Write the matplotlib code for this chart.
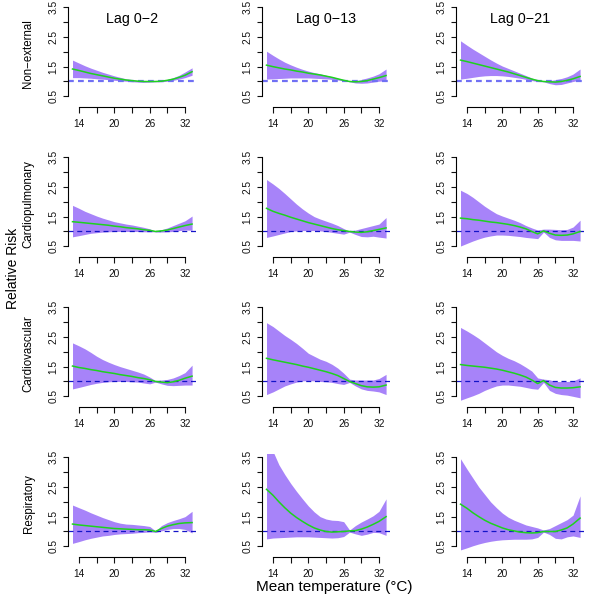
import matplotlib
matplotlib.use("Agg")
import matplotlib.pyplot as plt

# temperature grid the curves were read at (deg C)
temps = [12.9, 14, 15, 16, 17, 18, 19, 20, 21, 22, 23, 24, 25, 26, 27, 28, 29, 30, 31, 32, 33.2]

outcomes = ["Non\u2212external", "Cardiopulmonary", "Cardiovascular", "Respiratory"]
lags = ["Lag 0\u22122", "Lag 0\u221213", "Lag 0\u221221"]

x_ticks = [14, 17, 20, 23, 26, 29, 32]
x_labels = ["14", "", "20", "", "26", "", "32"]
y_ticks = [0.5, 1.0, 1.5, 2.0, 2.5, 3.0, 3.5]
y_labels = ["0.5", "", "1.5", "", "2.5", "", "3.5"]

# relative risk curves, one list per lag (0-2, 0-13, 0-21)
nonext_fit = [
    [1.42, 1.37, 1.32, 1.27, 1.23, 1.19, 1.15, 1.11, 1.08, 1.05, 1.03, 1.01, 1.00, 1.00, 1.00, 1.01, 1.04, 1.08, 1.14, 1.21, 1.33],
    [1.55, 1.50, 1.46, 1.42, 1.39, 1.35, 1.32, 1.28, 1.25, 1.22, 1.18, 1.14, 1.09, 1.04, 1.00, 0.99, 1.00, 1.03, 1.08, 1.13, 1.20],
    [1.72, 1.67, 1.62, 1.57, 1.52, 1.47, 1.42, 1.37, 1.32, 1.26, 1.20, 1.14, 1.08, 1.03, 1.00, 0.99, 0.98, 1.00, 1.04, 1.09, 1.17],
]
nonext_hi = [
    [1.72, 1.62, 1.53, 1.45, 1.38, 1.31, 1.25, 1.19, 1.14, 1.09, 1.06, 1.04, 1.03, 1.02, 1.02, 1.04, 1.07, 1.13, 1.21, 1.32, 1.46],
    [2.02, 1.88, 1.76, 1.65, 1.56, 1.48, 1.41, 1.35, 1.30, 1.26, 1.21, 1.16, 1.11, 1.06, 1.01, 1.02, 1.07, 1.12, 1.18, 1.26, 1.42],
    [2.37, 2.22, 2.09, 1.97, 1.85, 1.73, 1.62, 1.52, 1.44, 1.36, 1.28, 1.20, 1.12, 1.05, 1.01, 1.03, 1.06, 1.10, 1.16, 1.25, 1.42],
]
nonext_lo = [
    [1.13, 1.13, 1.12, 1.11, 1.09, 1.08, 1.06, 1.04, 1.02, 1.01, 0.99, 0.98, 0.97, 0.98, 0.99, 0.99, 1.01, 1.04, 1.08, 1.13, 1.21],
    [1.08, 1.09, 1.10, 1.11, 1.12, 1.12, 1.12, 1.12, 1.11, 1.10, 1.09, 1.07, 1.05, 1.02, 0.99, 0.95, 0.94, 0.95, 0.98, 1.01, 1.03],
    [1.08, 1.11, 1.14, 1.17, 1.19, 1.20, 1.20, 1.19, 1.17, 1.14, 1.11, 1.07, 1.03, 1.00, 0.99, 0.93, 0.89, 0.90, 0.95, 1.00, 1.05],
]

cardiopul_fit = [
    [1.33, 1.31, 1.29, 1.27, 1.25, 1.23, 1.21, 1.18, 1.16, 1.13, 1.11, 1.09, 1.06, 1.04, 1.00, 1.02, 1.05, 1.10, 1.15, 1.20, 1.25],
    [1.78, 1.68, 1.61, 1.55, 1.48, 1.42, 1.36, 1.30, 1.25, 1.20, 1.15, 1.10, 1.06, 1.03, 1.00, 0.98, 0.97, 0.99, 1.03, 1.07, 1.12],
    [1.45, 1.43, 1.40, 1.38, 1.35, 1.32, 1.30, 1.27, 1.24, 1.20, 1.15, 1.09, 1.00, 0.92, 1.02, 0.94, 0.88, 0.87, 0.88, 0.92, 1.00],
]
cardiopul_hi = [
    [1.88, 1.78, 1.68, 1.60, 1.52, 1.45, 1.39, 1.33, 1.29, 1.25, 1.22, 1.18, 1.14, 1.09, 1.01, 1.06, 1.12, 1.20, 1.28, 1.36, 1.52],
    [2.75, 2.60, 2.45, 2.28, 2.10, 1.92, 1.76, 1.62, 1.50, 1.42, 1.35, 1.28, 1.20, 1.10, 1.01, 1.05, 1.10, 1.15, 1.20, 1.25, 1.47],
    [2.39, 2.28, 2.15, 2.00, 1.85, 1.72, 1.60, 1.52, 1.45, 1.38, 1.30, 1.20, 1.12, 1.05, 1.08, 1.08, 1.07, 1.06, 1.07, 1.15, 1.38],
]
cardiopul_lo = [
    [0.82, 0.86, 0.90, 0.94, 0.96, 0.98, 0.99, 1.00, 1.00, 1.00, 1.00, 1.00, 0.99, 0.99, 0.99, 0.98, 0.99, 1.00, 1.03, 1.05, 1.04],
    [0.80, 0.85, 0.90, 0.95, 1.00, 1.02, 1.03, 1.03, 1.03, 1.02, 1.00, 0.97, 0.94, 0.91, 0.98, 0.90, 0.83, 0.82, 0.84, 0.81, 0.78],
    [0.51, 0.60, 0.68, 0.75, 0.81, 0.85, 0.88, 0.88, 0.87, 0.85, 0.83, 0.80, 0.78, 0.76, 0.98, 0.80, 0.72, 0.70, 0.70, 0.70, 0.68],
]

cardiovas_fit = [
    [1.52, 1.47, 1.44, 1.40, 1.37, 1.33, 1.30, 1.27, 1.23, 1.20, 1.17, 1.13, 1.10, 1.06, 1.00, 0.98, 0.96, 0.99, 1.04, 1.11, 1.18],
    [1.78, 1.73, 1.69, 1.65, 1.61, 1.57, 1.52, 1.48, 1.43, 1.38, 1.33, 1.27, 1.20, 1.10, 1.00, 0.93, 0.86, 0.82, 0.81, 0.82, 0.88],
    [1.57, 1.54, 1.52, 1.50, 1.48, 1.45, 1.42, 1.38, 1.33, 1.28, 1.22, 1.15, 1.05, 0.93, 1.03, 0.88, 0.80, 0.78, 0.78, 0.79, 0.82],
]
cardiovas_hi = [
    [2.30, 2.20, 2.10, 1.98, 1.85, 1.74, 1.65, 1.57, 1.50, 1.44, 1.38, 1.32, 1.25, 1.15, 1.03, 1.05, 1.07, 1.12, 1.20, 1.30, 1.55],
    [2.98, 2.85, 2.70, 2.55, 2.42, 2.28, 2.12, 1.95, 1.85, 1.75, 1.68, 1.58, 1.45, 1.28, 1.08, 1.05, 1.05, 1.05, 1.05, 1.10, 1.24],
    [2.82, 2.70, 2.58, 2.45, 2.30, 2.15, 2.00, 1.88, 1.78, 1.70, 1.60, 1.48, 1.35, 1.12, 1.08, 1.06, 1.00, 1.00, 1.00, 1.02, 1.12],
]
cardiovas_lo = [
    [0.75, 0.80, 0.85, 0.90, 0.94, 0.97, 0.99, 1.00, 1.00, 1.00, 0.99, 0.98, 0.95, 0.92, 0.98, 0.92, 0.87, 0.86, 0.87, 0.88, 0.88],
    [0.56, 0.65, 0.75, 0.85, 0.92, 0.98, 1.02, 1.03, 1.02, 1.00, 0.99, 0.97, 0.93, 0.90, 0.97, 0.85, 0.75, 0.70, 0.68, 0.65, 0.56],
    [0.37, 0.45, 0.52, 0.60, 0.70, 0.78, 0.85, 0.88, 0.88, 0.86, 0.84, 0.80, 0.76, 0.74, 0.97, 0.70, 0.60, 0.56, 0.54, 0.50, 0.45],
]

resp_fit = [
    [1.25, 1.22, 1.20, 1.18, 1.16, 1.14, 1.12, 1.10, 1.09, 1.08, 1.07, 1.06, 1.06, 1.05, 1.00, 1.10, 1.18, 1.23, 1.27, 1.29, 1.30],
    [2.42, 2.22, 2.00, 1.80, 1.62, 1.47, 1.34, 1.22, 1.12, 1.05, 1.00, 0.98, 0.99, 1.00, 1.02, 1.03, 1.08, 1.15, 1.24, 1.34, 1.50],
    [1.92, 1.78, 1.63, 1.50, 1.38, 1.28, 1.20, 1.12, 1.06, 1.02, 0.98, 0.96, 0.95, 0.96, 1.00, 1.00, 1.00, 1.05, 1.12, 1.25, 1.45],
]
resp_hi = [
    [1.89, 1.80, 1.72, 1.63, 1.55, 1.47, 1.40, 1.33, 1.28, 1.25, 1.24, 1.22, 1.20, 1.17, 1.02, 1.20, 1.30, 1.37, 1.43, 1.50, 1.68],
    [4.20, 3.70, 3.25, 2.92, 2.62, 2.35, 2.10, 1.86, 1.66, 1.50, 1.42, 1.38, 1.37, 1.33, 1.05, 1.20, 1.32, 1.42, 1.53, 1.68, 2.10],
    [3.45, 3.10, 2.80, 2.50, 2.25, 2.00, 1.80, 1.62, 1.48, 1.38, 1.30, 1.22, 1.17, 1.12, 1.05, 1.10, 1.20, 1.30, 1.40, 1.55, 2.20],
]
resp_lo = [
    [0.60, 0.66, 0.72, 0.77, 0.81, 0.85, 0.87, 0.90, 0.92, 0.93, 0.94, 0.96, 0.97, 0.99, 0.97, 1.02, 1.07, 1.10, 1.10, 1.07, 0.95],
    [0.75, 0.78, 0.79, 0.80, 0.81, 0.82, 0.82, 0.82, 0.81, 0.80, 0.79, 0.78, 0.79, 0.83, 0.98, 0.92, 0.87, 0.91, 0.97, 0.96, 0.87],
    [0.38, 0.45, 0.52, 0.58, 0.63, 0.67, 0.70, 0.72, 0.73, 0.74, 0.74, 0.74, 0.75, 0.80, 0.98, 0.90, 0.77, 0.75, 0.82, 0.85, 0.80],
]

fits = [nonext_fit, cardiopul_fit, cardiovas_fit, resp_fit]
highs = [nonext_hi, cardiopul_hi, cardiovas_hi, resp_hi]
lows = [nonext_lo, cardiopul_lo, cardiovas_lo, resp_lo]

plt.rcParams['font.family'] = ['Liberation Sans', 'DejaVu Sans']

W, H = 600, 599
fig = plt.figure(figsize=(W / 100, H / 100), dpi=100)

band_col = "#A783F9"
fit_col = "#1ED21E"

for r in range(4):
    for c in range(3):
        left = 67.8 + 194 * c
        top = 150 * r + 3.7
        ax = fig.add_axes([left / W, 1 - (top + 96.2) / H, 129 / W, 96.2 / H])
        ax.fill_between(temps, lows[r][c], highs[r][c], color=band_col, lw=0)
        if r == 0:
            ax.axhline(1, color="#7070F4", lw=1.6, dashes=(2.6, 1.9))
        else:
            ax.axhline(1, color="#1414C8", lw=0.9, dashes=(4, 3))
        ax.plot(temps, fits[r][c], color=fit_col, lw=1.1)

        ax.set_xlim(12.1, 34.0)
        ax.set_ylim(0.38, 3.62)
        for s in ["top", "right"]:
            ax.spines[s].set_visible(False)
        ax.spines["left"].set_bounds(0.5, 3.5)
        ax.spines["bottom"].set_bounds(14, 32)
        ax.spines["bottom"].set_position(("outward", 4.9))
        for s in ["left", "bottom"]:
            ax.spines[s].set_linewidth(0.8)
        ax.set_xticks(x_ticks)
        ax.set_xticklabels(x_labels)
        ax.set_yticks(y_ticks)
        ax.set_yticklabels(y_labels, rotation=90, va="center")
        ax.tick_params(axis="x", length=4.6, width=0.8, pad=4.5, labelsize=7.3, colors="#111111")
        ax.tick_params(axis="y", length=3.6, width=0.8, pad=3, labelsize=7.3, colors="#111111")

        if r == 0:
            fig.text((left + 64.5) / W, 1 - 22.7 / H, lags[c], ha="center",
                     va="baseline", fontsize=10.3)
        if c == 0:
            fig.text(28.5 / W, 1 - (150 * r + 54) / H, outcomes[r], rotation=90,
                     ha="center", va="center", fontsize=8.3)

fig.text(13 / W, 1 - 268 / H, "Relative Risk", rotation=90, ha="center",
         va="center", fontsize=10)
fig.text(334 / W, 1 - 587 / H, "Mean temperature (\u00b0C)", ha="center",
         va="center", fontsize=11)

fig.savefig("out.png", dpi=100)
